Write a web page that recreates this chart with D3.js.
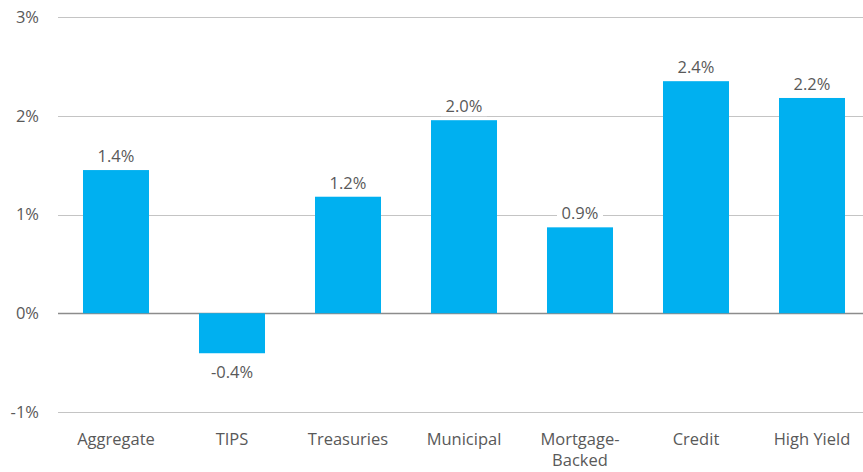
<!DOCTYPE html>
<html>
<head>
<meta charset="utf-8">
<script src="https://cdn.jsdelivr.net/npm/d3@7"></script>
<style>
  body { margin: 0; background: #fff; }
  text { font-family: "Open Sans", sans-serif; fill: #595959; }
</style>
</head>
<body>
<div id="chart"></div>
<script>
// data
const categories = ["Aggregate", "TIPS", "Treasuries", "Municipal", "Mortgage-\nBacked", "Credit", "High Yield"];
const values = [1.45, -0.405, 1.18, 1.955, 0.87, 2.35, 2.18];
const yTicks = [-1, 0, 1, 2, 3];

const width = 863, height = 472;
const fontSize = "16.5px";

const svg = d3.select("#chart").append("svg")
    .attr("width", width)
    .attr("height", height);

const x = d3.scaleBand()
    .domain(categories)
    .range([58, 870])
    .paddingInner(0.431)
    .paddingOuter(0.2155);

const y = d3.scaleLinear()
    .domain([-1, 3])
    .range([412, 17]);

// gridlines
svg.append("g").selectAll("line")
    .data(yTicks)
    .join("line")
    .attr("x1", 58)
    .attr("x2", width)
    .attr("y1", d => Math.round(y(d)) + 0.5)
    .attr("y2", d => Math.round(y(d)) + 0.5)
    .attr("stroke", d => d === 0 ? "#8c8c8c" : "#c4c4c4")
    .attr("stroke-width", d => d === 0 ? 1.5 : 1.2);

// y labels
svg.append("g").selectAll("text")
    .data(yTicks)
    .join("text")
    .attr("x", 39)
    .attr("y", d => y(d))
    .attr("dy", "0.35em")
    .attr("text-anchor", "end")
    .style("font-size", fontSize)
    .text(d => d + "%");

// bars
svg.append("g").selectAll("rect")
    .data(values)
    .join("rect")
    .attr("x", (d, i) => x(categories[i]))
    .attr("width", x.bandwidth())
    .attr("y", d => y(Math.max(0, d)))
    .attr("height", d => Math.abs(y(d) - y(0)))
    .attr("fill", "#00b0f0");

// value labels with white box behind
const labels = svg.append("g").selectAll("g")
    .data(values)
    .join("g")
    .attr("transform", (d, i) => {
        const cx = x(categories[i]) + x.bandwidth() / 2;
        const by = d >= 0 ? y(d) - 8 : y(d) + 25;
        return "translate(" + cx + "," + by + ")";
    });

labels.append("rect")
    .attr("x", -23)
    .attr("y", -16)
    .attr("width", 46)
    .attr("height", 20)
    .attr("fill", "#fff");

labels.append("text")
    .attr("text-anchor", "middle")
    .style("font-size", fontSize)
    .text(d => d.toFixed(1) + "%");

// category labels
const cat = svg.append("g").selectAll("text")
    .data(categories)
    .join("text")
    .attr("x", d => x(d) + x.bandwidth() / 2)
    .attr("y", 445)
    .attr("text-anchor", "middle")
    .style("font-size", fontSize);

cat.selectAll("tspan")
    .data(d => d.split("\n"))
    .join("tspan")
    .attr("x", function() { return this.parentNode.getAttribute("x"); })
    .attr("dy", (d, i) => i === 0 ? 0 : 21)
    .text(d => d);
</script>
</body>
</html>
